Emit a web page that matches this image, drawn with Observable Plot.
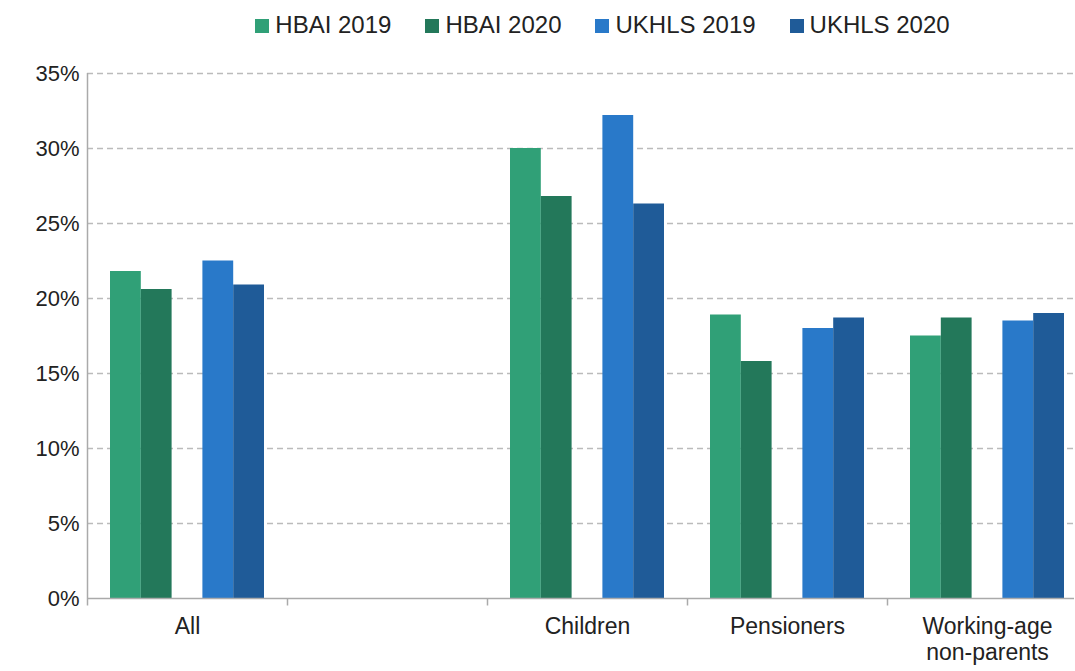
<!DOCTYPE html>
<html>
<head>
<meta charset="utf-8">
<script src="https://cdn.jsdelivr.net/npm/d3@7"></script>
<script src="https://cdn.jsdelivr.net/npm/@observablehq/plot@0.6"></script>
<style>
  body { margin: 0; font-family: "Liberation Sans", Arial, sans-serif; background: #fff; }
  #legend { height: 50px; display: flex; justify-content: center; align-items: center; gap: 34px; font-size: 24px; color: #222; padding-left: 130px; box-sizing: border-box; }
  #legend span.sw { display: inline-block; width: 14px; height: 14px; margin-right: 6px; }
</style>
</head>
<body>
<div id="legend"></div>
<div id="chart"></div>
<script>
// categories (index 1 is an empty slot in the original chart)
const categories = ["All", "", "Children", "Pensioners", "Working-age\nnon-parents"];
const series = ["HBAI 2019", "HBAI 2020", "UKHLS 2019", "UKHLS 2020"];
const colors = ["#30a077", "#23785a", "#2979c9", "#1f5b98"];

const hbai2019  = [21.8, null, 30.0, 18.9, 17.5];
const hbai2020  = [20.6, null, 26.8, 15.8, 18.7];
const ukhls2019 = [22.5, null, 32.2, 18.0, 18.5];
const ukhls2020 = [20.9, null, 26.3, 18.7, 19.0];

// sub-slot position of each series inside a category (middle slot left empty)
const slotOf = [0, 1, 3, 4];
const allValues = [hbai2019, hbai2020, ukhls2019, ukhls2020];

const rows = [];
allValues.forEach((vals, s) => {
  vals.forEach((v, i) => {
    if (v == null) return;
    const start = i + 0.115 + slotOf[s] * 0.154;
    rows.push({series: series[s], x1: start, x2: start + 0.154, value: v});
  });
});

const legend = document.getElementById("legend");
series.forEach((s, i) => {
  const d = document.createElement("div");
  d.innerHTML = `<span class="sw" style="background:${colors[i]}"></span>${s}`;
  legend.appendChild(d);
});

const chart = Plot.plot({
  width: 1075,
  height: 621,
  marginLeft: 87,
  marginTop: 23,
  marginBottom: 73,
  style: {fontFamily: "Liberation Sans, Arial, sans-serif", fontSize: "22px", color: "#222"},
  x: {domain: [0, 5], range: [87, 1087], axis: null},
  y: {domain: [0, 35], ticks: d3.range(0, 36, 5), tickFormat: d => d + "%", label: null, tickSize: 0, tickPadding: 8},
  color: {domain: series, range: colors},
  marks: [
    Plot.ruleY(d3.range(5, 36, 5), {stroke: "#bbb", strokeDasharray: "6,4", strokeWidth: 1.3}),
    Plot.rectY(rows, {x1: "x1", x2: "x2", y: "value", fill: "series"}),
    Plot.ruleY([0], {stroke: "#aaa", strokeWidth: 1.5}),
    Plot.ruleX([0], {y1: 0, y2: 35, stroke: "#aaa", strokeWidth: 1.5}),
    Plot.ruleX(d3.range(0, 6), {y1: 0, y2: -0.5, stroke: "#aaa", strokeWidth: 1.5}),
    Plot.text(categories, {x: (d, i) => i + 0.5, y: 0, text: d => d, dy: 18, lineAnchor: "top", fontSize: 23, fill: "#222", lineHeight: 1.1})
  ]
});
document.getElementById("chart").appendChild(chart);
</script>
</body>
</html>
